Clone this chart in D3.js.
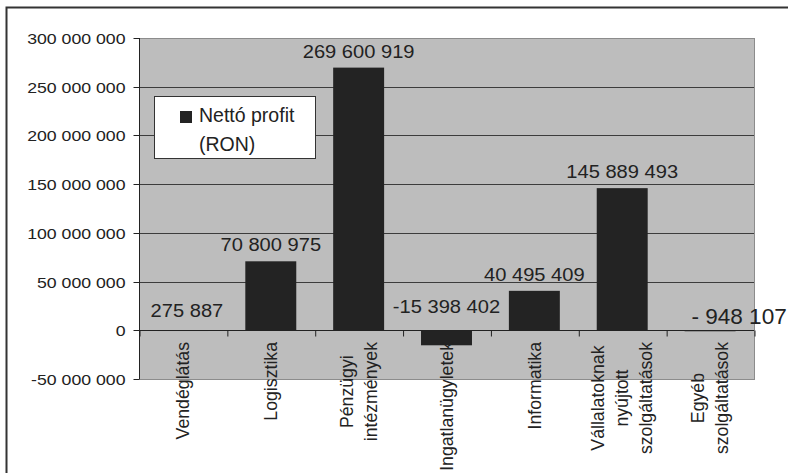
<!DOCTYPE html>
<html>
<head>
<meta charset="utf-8">
<script src="https://cdn.jsdelivr.net/npm/d3@7"></script>
<style>
  html, body { margin: 0; padding: 0; background: #fff; }
  svg { display: block; font-family: "Liberation Sans", Arial, sans-serif; }
</style>
</head>
<body>
<svg id="chart" width="788" height="473"></svg>
<script>
// Net profit by sector (RON)
const categories = [
  "Vendéglátás",
  "Logisztika",
  "Pénzügyi\nintézmények",
  "Ingatlanügyletek",
  "Informatika",
  "Vállalatoknak\nnyújtott\nszolgáltatások",
  "Egyéb\nszolgáltatások"
];
const values = [275887, 70800975, 269600919, -15398402, 40495409, 145889493, -948107];
const valueLabels = ["275 887", "70 800 975", "269 600 919", "-15 398 402", "40 495 409", "145 889 493", "- 948 107"];
const yTicks = [-50000000, 0, 50000000, 100000000, 150000000, 200000000, 250000000, 300000000];
const legendLines = ["Nettó profit", "(RON)"];

const svg = d3.select("#chart");
const W = 788, H = 473;
const plot = { left: 139, right: 754, top: 38, bottom: 379 };
const ink = "#222";

const fmt = d3.formatLocale({ decimal: ",", thousands: " ", grouping: [3], currency: ["", ""], minus: "-" }).format(",");

// outer frame (left and top edges visible)
svg.append("path")
  .attr("d", `M6.5,${H} V7.5 H${W}`)
  .attr("fill", "none").attr("stroke", "#333").attr("stroke-width", 2);

const y = d3.scaleLinear().domain([yTicks[0], yTicks[yTicks.length - 1]]).range([plot.bottom, plot.top]);
const x = d3.scaleBand().domain(d3.range(categories.length))
  .range([plot.left, plot.right]).paddingInner(0.42).paddingOuter(0.21);
const xEdge = d3.scaleLinear().domain([0, categories.length]).range([plot.left, plot.right]);
const crisp = v => Math.round(v) + 0.5;

// plot background
svg.append("rect")
  .attr("x", plot.left + 0.5).attr("y", crisp(plot.top))
  .attr("width", plot.right - plot.left).attr("height", Math.round(plot.bottom) - Math.round(plot.top))
  .attr("fill", "#bdbdbd").attr("stroke", "#8c8c8c").attr("stroke-width", 1);

// horizontal gridlines
svg.append("g").selectAll("line")
  .data(yTicks.filter(t => t !== yTicks[0] && t !== yTicks[yTicks.length - 1] && t !== 0))
  .join("line")
  .attr("x1", plot.left).attr("x2", plot.right)
  .attr("y1", d => crisp(y(d))).attr("y2", d => crisp(y(d)))
  .attr("stroke", "#3c3c3c").attr("stroke-width", 1);

// bars
svg.append("g").selectAll("rect")
  .data(values)
  .join("rect")
  .attr("x", (d, i) => x(i))
  .attr("width", x.bandwidth())
  .attr("y", d => y(Math.max(d, 0)))
  .attr("height", d => Math.max(Math.abs(y(d) - y(0)), 1))
  .attr("fill", "#232323");

// category axis along the zero line, ticks at category boundaries
const xAxis = svg.append("g")
  .attr("transform", `translate(0,${crisp(y(0))})`)
  .call(d3.axisBottom(xEdge).tickValues(d3.range(categories.length + 1)).tickSize(6).tickFormat(""));
xAxis.select(".domain").attr("stroke", ink).attr("d", `M${plot.left},0H${plot.right}`);
xAxis.selectAll(".tick line").attr("stroke", ink).attr("transform", "translate(0.5,0)");

// value axis
const yAxis = svg.append("g")
  .attr("transform", `translate(${plot.left + 0.5},0)`)
  .call(d3.axisLeft(y).tickValues(yTicks).tickSize(6).tickFormat(fmt));
yAxis.select(".domain").attr("stroke", ink).attr("d", `M0,${plot.top}V${plot.bottom}`);
yAxis.selectAll(".tick").attr("transform", d => `translate(0,${crisp(y(d))})`);
yAxis.selectAll(".tick line").attr("stroke", ink);
yAxis.selectAll(".tick text")
  .attr("x", null).attr("dy", null)
  .attr("transform", "translate(-14,5.7) scale(1.18,1)")
  .attr("text-anchor", "end")
  .attr("fill", ink)
  .style("font-size", "15px")
  .style("font-family", "'Liberation Sans', Arial, sans-serif");

// value labels above the bars
const labelShift = { 0: [4, -3], 3: [0, -7], 6: [29, 4] };
svg.append("g").selectAll("text")
  .data(values)
  .join("text")
  .attr("transform", (d, i) => {
    const s = labelShift[i] || [0, 0];
    const cx = x(i) + x.bandwidth() / 2 + s[0];
    const by = y(Math.max(d, 0)) - 10 + s[1];
    const sx = i === 6 ? 1.05 : 1.07;
    return `translate(${cx},${by}) scale(${sx},1)`;
  })
  .attr("text-anchor", "middle")
  .attr("fill", ink)
  .style("font-size", (d, i) => i === 6 ? "21.5px" : "18.8px")
  .text((d, i) => valueLabels[i]);

// rotated category labels below the axis
const catFont = 17.7, lineH = 24, labelTop = 342;
const catG = svg.append("g").selectAll("g")
  .data(categories)
  .join("g")
  .attr("transform", (d, i) => `translate(${x(i) + x.bandwidth() / 2},${labelTop}) rotate(-90)`);
catG.each(function (d) {
  const g = d3.select(this);
  const lines = d.split("\n");
  const texts = lines.map((ln, k) => g.append("text")
    .attr("y", (k - (lines.length - 1) / 2) * lineH + 0.35 * catFont)
    .attr("text-anchor", "middle")
    .attr("fill", ink)
    .style("font-size", catFont + "px")
    .text(ln));
  const maxW = d3.max(texts, t => t.node().getComputedTextLength());
  texts.forEach(t => t.attr("x", -maxW / 2));
});

// legend
const lg = svg.append("g");
lg.append("rect")
  .attr("x", 154.5).attr("y", 96.5).attr("width", 161).attr("height", 62)
  .attr("fill", "#fff").attr("stroke", "#333").attr("stroke-width", 1);
lg.append("rect")
  .attr("x", 180).attr("y", 111).attr("width", 12).attr("height", 12)
  .attr("fill", "#232323");
lg.selectAll("text.leg")
  .data(legendLines)
  .join("text")
  .attr("class", "leg")
  .attr("x", 199)
  .attr("y", (d, i) => 122 + i * 29)
  .attr("fill", ink)
  .style("font-size", "19.5px")
  .text(d => d);
</script>
</body>
</html>
